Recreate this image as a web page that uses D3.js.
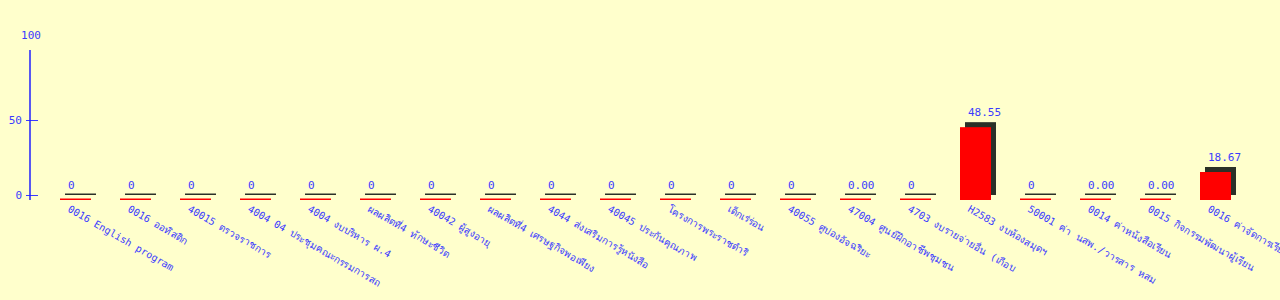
<!DOCTYPE html>
<html lang="th">
<head>
<meta charset="utf-8" />
<title>Budget chart</title>
<script src="https://d3js.org/d3.v7.min.js"></script>
<style>
    body { margin: 0; background: #ffffcc; }
    text { font-family: "DejaVu Sans Mono", monospace; fill: #3b3bff; }
    .val { font-size: 11px; }
    .cat { font-size: 10px; }
    .tick text { font-size: 11px; }
</style>
</head>
<body>
<div id="chart"></div>
<script>
    var categories = [
        "0016 English program",
        "0016 ออทิสติก",
        "40015 ตรวจราชการ",
        "4004 04 ประชุมคณะกรรมการสถ",
        "4004 งบบริหาร ผ.4",
        "ผลผลิตที่4 ทักษะชีวิต",
        "40042 ผู้สูงอายุ",
        "ผลผลิตที่4 เศรษฐกิจพอเพียง",
        "4044 ส่งเสริมการรู้หนังสือ",
        "40045 ประกันคุณภาพ",
        "โครงการพระราชดำริ",
        "เด็กเร่ร่อน",
        "40055 ศูปองอัจฉริยะ",
        "47004 ศูนย์ฝึกอาชีพชุมชน",
        "4703 งบรายจ่ายอื่น (เกือบ",
        "H2583 งบห้องสมุดฯ",
        "50001 ค่า นสพ./วารสาร หสม",
        "0014 ค่าหนังสือเรียน",
        "0015 กิจกรรมพัฒนาผู้เรียน",
        "0016 ค่าจัดการเรียนการสอน"
    ];
    var values = [0, 0, 0, 0, 0, 0, 0, 0, 0, 0, 0, 0, 0, 0, 0, 48.55, 0, 0, 0, 18.67];
    var valueLabels = ["0", "0", "0", "0", "0", "0", "0", "0", "0", "0", "0", "0", "0",
        "0.00", "0", "48.55", "0", "0.00", "0.00", "18.67"];
    var yTicks = [0, 50, 100];

    var width = 1280, height = 300;
    var svg = d3.select("#chart").append("svg")
        .attr("width", width)
        .attr("height", height);

    var x = d3.scaleBand()
        .domain(categories)
        .range([60, 60 + 60 * categories.length])
        .paddingInner(0)
        .paddingOuter(0);
    var barW = 31;
    var off = 5;

    var y = d3.scaleLinear().domain([0, 100]).range([195, 45]);

    // axis
    var axis = d3.axisLeft(y)
        .tickValues(yTicks.slice(0, 2))
        .tickSizeOuter(0)
        .tickSize(4)
        .tickPadding(4);
    var ga = svg.append("g").attr("transform", "translate(30,0)").call(axis);
    ga.select(".domain").remove();
    ga.selectAll(".tick line").attr("x1", -4).attr("x2", 8).attr("stroke", "#3b3bff");
    ga.selectAll(".tick text").attr("fill", "#3b3bff").style("font-family", "DejaVu Sans Mono");
    ga.append("line")
        .attr("x1", 0).attr("x2", 0)
        .attr("y1", 50).attr("y2", 200)
        .attr("stroke", "#2020ff").attr("stroke-width", 1.5);
    ga.append("text")
        .attr("x", 1)
        .attr("y", y(yTicks[2]) - 6)
        .attr("text-anchor", "middle")
        .attr("class", "val")
        .text(yTicks[2]);

    var g = svg.selectAll(".bar")
        .data(categories)
        .enter().append("g")
        .attr("class", "bar");

    // shadow bar
    g.append("rect")
        .attr("x", function (d) { return x(d) + off; })
        .attr("y", function (d, i) { return Math.min(y(values[i]), y(0) - 1.5); })
        .attr("width", barW)
        .attr("height", function (d, i) { return Math.max(y(0) - y(values[i]), 1.5); })
        .attr("fill", "#2b3027");

    // front bar
    g.append("rect")
        .attr("x", function (d) { return x(d); })
        .attr("y", function (d, i) { return Math.min(y(values[i]), y(0) - 1.5) + off; })
        .attr("width", barW)
        .attr("height", function (d, i) { return Math.max(y(0) - y(values[i]), 1.5); })
        .attr("fill", "#ff0000");

    g.append("text")
        .attr("class", "val")
        .attr("x", function (d) { return x(d) + 8; })
        .attr("y", function (d, i) { return y(values[i]) - 6; })
        .text(function (d, i) { return valueLabels[i]; });

    g.append("text")
        .attr("class", "cat")
        .attr("transform", function (d) { return "translate(" + (x(d) + 7) + ",211) rotate(30)"; })
        .text(function (d) { return d; });
</script>
</body>
</html>
